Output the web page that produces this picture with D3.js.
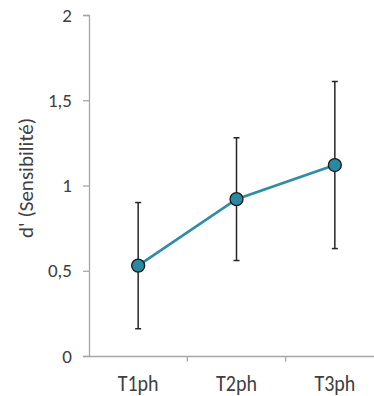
<!DOCTYPE html>
<html>
<head>
<meta charset="utf-8">
<script src="https://cdn.jsdelivr.net/npm/d3@7"></script>
<style>
  html, body { margin: 0; padding: 0; background: #fff; }
  svg { display: block; }
  text { font-family: Carlito, Lato, "Open Sans", sans-serif; fill: #404040; }
</style>
</head>
<body>
<svg id="chart" width="374" height="396"></svg>
<script>
// Session labels and mean d' with symmetric error
const categories = ["T1ph", "T2ph", "T3ph"];
const means = [0.53, 0.92, 1.12];
const errors = [0.37, 0.36, 0.49];
const yTicks = [0, 0.5, 1, 1.5, 2];
const yTickLabels = ["0", "0,5", "1", "1,5", "2"];
const yTitle = "d' (Sensibilité)";

const svg = d3.select("#chart");
const plotLeft = 89, plotRight = 384, plotTop = 15, plotBottom = 356;

const x = d3.scaleBand().domain(categories).range([plotLeft, plotRight]);
const y = d3.scaleLinear().domain([0, 2]).range([plotBottom, plotTop]);

const axisColor = "#a6a6a6";

// Y axis
const yAxis = svg.append("g").attr("transform", `translate(${plotLeft},0)`)
  .call(d3.axisLeft(y).tickValues(yTicks).tickSize(6).tickPadding(11)
    .tickFormat((d, i) => yTickLabels[i]));
yAxis.select(".domain").attr("stroke", axisColor).attr("stroke-width", 1.3);
yAxis.selectAll(".tick line").attr("stroke", axisColor).attr("stroke-width", 1.3);
yAxis.selectAll(".tick text").style("font-size", "19px").attr("fill", "#404040")
  .style("font-family", "Carlito, Lato, sans-serif");

// X axis with ticks at category boundaries
const xAxisG = svg.append("g").attr("transform", `translate(0,${plotBottom + 0.5})`);
xAxisG.append("line").attr("x1", plotLeft).attr("x2", plotRight)
  .attr("stroke", axisColor).attr("stroke-width", 1.3);
xAxisG.selectAll("line.tick").data(categories.slice(1)).join("line")
  .attr("class", "tick")
  .attr("x1", d => x(d)).attr("x2", d => x(d))
  .attr("y1", 0).attr("y2", 5)
  .attr("stroke", axisColor).attr("stroke-width", 1.3);
xAxisG.selectAll("text").data(categories).join("text")
  .attr("transform", d => `translate(${x(d) + x.bandwidth() / 2},34) scale(1,1.12)`)
  .attr("text-anchor", "middle")
  .style("font-size", "20px")
  .text(d => d);

// Y title
svg.append("text")
  .attr("transform", `translate(33,178) rotate(-90)`)
  .attr("text-anchor", "middle")
  .style("font-size", "21px")
  .text(yTitle);

const cx = d => x(d) + x.bandwidth() / 2;

// Error bars
const eb = svg.append("g").attr("stroke", "#262626").attr("stroke-width", 1.5);
categories.forEach((c, i) => {
  const lo = y(means[i] - errors[i]), hi = y(means[i] + errors[i]);
  eb.append("line").attr("x1", cx(c)).attr("x2", cx(c)).attr("y1", lo).attr("y2", hi);
  eb.append("line").attr("x1", cx(c) - 3).attr("x2", cx(c) + 3).attr("y1", lo).attr("y2", lo);
  eb.append("line").attr("x1", cx(c) - 3).attr("x2", cx(c) + 3).attr("y1", hi).attr("y2", hi);
});

// Mean line
const line = d3.line().x((d, i) => cx(categories[i])).y(d => y(d));
svg.append("path").datum(means).attr("d", line)
  .attr("fill", "none").attr("stroke", "#2f8ea3").attr("stroke-width", 2.8);

// Markers
svg.selectAll("circle.pt").data(means).join("circle")
  .attr("class", "pt")
  .attr("cx", (d, i) => cx(categories[i]))
  .attr("cy", d => y(d))
  .attr("r", 6.5)
  .attr("fill", "#2a88a0")
  .attr("stroke", "#1a1a1a")
  .attr("stroke-width", 1.3);
</script>
</body>
</html>
